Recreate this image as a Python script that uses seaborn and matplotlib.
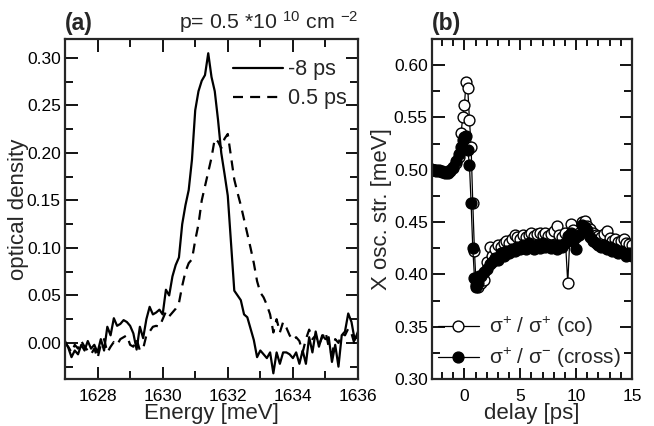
import numpy as np
import pandas as pd
import matplotlib
matplotlib.use("Agg")
import matplotlib.pyplot as plt
import seaborn as sns
from matplotlib.ticker import MultipleLocator, FormatStrFormatter

# ---------------- data panel (a) ----------------
energy = [1627.0 + 0.1 * i for i in range(91)]
od_m8ps = [0.002, -0.005, -0.015, -0.008, -0.012, -0.002, -0.008, 0.002, -0.006, -0.002,
           -0.010, 0.004, -0.008, 0.017, 0.008, 0.026, 0.018, 0.020, 0.024, 0.022,
           0.018, 0.010, -0.007, 0.017, 0.005, 0.025, 0.038, 0.030, 0.032, 0.035,
           0.030, 0.056, 0.050, 0.070, 0.082, 0.090, 0.125, 0.145, 0.161, 0.193,
           0.245, 0.265, 0.276, 0.282, 0.305, 0.280, 0.265, 0.235, 0.200, 0.178,
           0.155, 0.105, 0.055, 0.050, 0.045, 0.030, 0.027, 0.015, 0.003, -0.015,
           -0.008, -0.012, -0.016, -0.010, -0.032, -0.010, -0.022, -0.010, -0.010, -0.012,
           -0.016, -0.010, -0.022, -0.008, -0.022, 0.006, -0.010, 0.012, -0.004, 0.008,
           0.004, 0.006, -0.020, -0.002, -0.025, 0.008, 0.012, 0.031, 0.022, 0.003,
           0.012]
od_05ps = [0.000, -0.004, -0.010, -0.002, -0.006, 0.002, -0.004, -0.008, -0.012, -0.006,
           -0.016, -0.002, 0.004, -0.010, -0.004, 0.001, -0.002, 0.004, 0.006, 0.008,
           -0.002, -0.004, 0.004, -0.008, -0.006, 0.008, 0.012, 0.017, 0.018, 0.017,
           0.025, 0.033, 0.028, 0.032, 0.036, 0.042, 0.060, 0.075, 0.084, 0.088,
           0.108, 0.125, 0.150, 0.165, 0.180, 0.195, 0.215, 0.212, 0.205, 0.215,
           0.220, 0.196, 0.172, 0.158, 0.145, 0.130, 0.115, 0.100, 0.084, 0.065,
           0.053, 0.048, 0.040, 0.030, 0.011, 0.025, 0.011, 0.022, 0.016, 0.008,
           0.003, 0.006, 0.002, -0.010, 0.004, 0.014, 0.004, 0.008, -0.002, 0.006,
           0.012, -0.004, -0.012, 0.004, 0.000, 0.010, 0.008, 0.015, 0.010, -0.002,
           0.010]
spectrum_labels = ["-8 ps", "0.5 ps"]

# ---------------- data panel (b) ----------------
delay = [-3.0, -2.75, -2.5, -2.25, -2.0, -1.75, -1.5, -1.25, -1.0, -0.75, -0.5,
         -0.3, -0.15, 0.0, 0.15, 0.3, 0.45, 0.6, 0.75, 0.9, 1.05, 1.2, 1.35,
         1.5, 1.75, 2.0, 2.25, 2.5, 2.75, 3.0, 3.25, 3.5, 3.75,
         4.0, 4.25, 4.5, 4.75, 5.0, 5.25, 5.5, 5.75, 6.0, 6.25,
         6.5, 6.75, 7.0, 7.25, 7.5, 7.75, 8.0, 8.25, 8.5, 8.75,
         9.0, 9.25, 9.5, 9.75, 10.0, 10.25, 10.5, 10.75, 11.0, 11.25,
         11.5, 11.75, 12.0, 12.25, 12.5, 12.75, 13.0, 13.25, 13.5, 13.75,
         14.0, 14.25, 14.5, 14.75, 15.0]
osc_co = [0.501, 0.500, 0.500, 0.499, 0.499, 0.498, 0.498, 0.500, 0.502, 0.506, 0.512,
          0.535, 0.550, 0.562, 0.584, 0.578, 0.548, 0.522, 0.468, 0.422, 0.390, 0.388, 0.393,
          0.392, 0.395, 0.412, 0.426, 0.418, 0.424, 0.428, 0.426, 0.430, 0.432,
          0.430, 0.434, 0.438, 0.436, 0.434, 0.438, 0.436, 0.438, 0.440, 0.437,
          0.439, 0.440, 0.438, 0.440, 0.437, 0.439, 0.441, 0.446, 0.438, 0.436,
          0.440, 0.392, 0.448, 0.442, 0.436, 0.440, 0.450, 0.451, 0.446, 0.443,
          0.440, 0.438, 0.437, 0.436, 0.439, 0.441, 0.435, 0.432, 0.434, 0.431,
          0.432, 0.434, 0.430, 0.429, 0.428]
osc_cross = [0.501, 0.500, 0.499, 0.500, 0.498, 0.497, 0.497, 0.499, 0.503, 0.508, 0.515,
             0.522, 0.528, 0.531, 0.532, 0.519, 0.505, 0.468, 0.425, 0.397, 0.388, 0.392, 0.398,
             0.398, 0.402, 0.405, 0.410, 0.412, 0.416, 0.414, 0.420, 0.418, 0.422,
             0.420, 0.424, 0.422, 0.426, 0.424, 0.428, 0.424, 0.430, 0.426, 0.424,
             0.428, 0.425, 0.430, 0.426, 0.428, 0.425, 0.428, 0.424, 0.428, 0.426,
             0.430, 0.437, 0.440, 0.432, 0.424, 0.438, 0.447, 0.445, 0.442, 0.436,
             0.432, 0.430, 0.428, 0.426, 0.428, 0.424, 0.426, 0.422, 0.424, 0.420,
             0.422, 0.420, 0.418, 0.420, 0.418]
osc_labels = ["σ$^{+}$ / σ$^{+}$ (co)", "σ$^{+}$ / σ$^{-}$ (cross)"]

# ---------------- style ----------------
sns.set_style("ticks")
plt.rcParams["font.family"] = ["Liberation Sans", "DejaVu Sans"]
plt.rcParams["mathtext.fontset"] = "custom"
plt.rcParams["mathtext.rm"] = "Liberation Sans"
plt.rcParams["mathtext.default"] = "regular"

fig = plt.figure(figsize=(6.54, 4.26), dpi=100)
axa = fig.add_axes([65 / 654, 47 / 426, 293 / 654, 340 / 426])
axb = fig.add_axes([432 / 654, 47 / 426, 200 / 654, 340 / 426])

df_a = pd.DataFrame({"E": energy, "m8": od_m8ps, "p05": od_05ps})
sns.lineplot(data=df_a, x="E", y="m8", ax=axa, color="black", lw=1.6,
             label=spectrum_labels[0], sort=False, estimator=None)
sns.lineplot(data=df_a, x="E", y="p05", ax=axa, color="black", lw=1.6,
             dashes=False, linestyle=(0, (4.5, 3.2)),
             label=spectrum_labels[1], sort=False, estimator=None)

df_b = pd.DataFrame({"d": delay, "co": osc_co, "cross": osc_cross})
sns.lineplot(data=df_b, x="d", y="co", ax=axb, color="black", lw=0.9,
             marker="o", markersize=7.8, mfc="white", mec="black", mew=1.0,
             label=osc_labels[0], sort=False, estimator=None)
sns.lineplot(data=df_b, x="d", y="cross", ax=axb, color="black", lw=0.9,
             marker="o", markersize=7.8, mfc="black", mec="black", mew=1.0,
             label=osc_labels[1], sort=False, estimator=None)

for ax in (axa, axb):
    for s in ax.spines.values():
        s.set_linewidth(1.6)
        s.set_visible(True)
    ax.tick_params(which="both", direction="in", top=True, right=True,
                   width=1.3, labelsize=12.5, colors="black")
    ax.tick_params(axis="x", which="both", pad=7)
    ax.tick_params(axis="y", which="both", pad=3)

axa.set_xlim(1627, 1636)
axa.set_ylim(-0.038, 0.32)
axa.xaxis.set_major_locator(MultipleLocator(2))
axa.xaxis.set_minor_locator(MultipleLocator(1))
axa.yaxis.set_major_locator(MultipleLocator(0.05))
axa.yaxis.set_minor_locator(MultipleLocator(0.025))
axa.yaxis.set_major_formatter(FormatStrFormatter("%.2f"))
axa.tick_params(which="major", length=9)
axa.tick_params(which="minor", length=6)
axa.set_xticks([1628, 1630, 1632, 1634, 1636])
axa.set_xlabel("Energy [meV]", fontsize=16)
axa.set_ylabel("optical density", fontsize=16)
axa.xaxis.set_label_coords(0.5, -0.1)
axa.yaxis.set_label_coords(-0.16, 0.5)
axa.xaxis.label.set_va("center")
axa.yaxis.label.set_va("center")
axa.legend(loc="upper left", frameon=False, fontsize=15.5, handlelength=2.35,
           handletextpad=0.22, borderaxespad=0, borderpad=0, labelspacing=0.36,
           bbox_to_anchor=(0.573, 0.94))
axa.text(0.0, 1.012, "(a)", transform=axa.transAxes, fontsize=16.5,
         fontweight="bold", ha="left", va="bottom")
axa.text(1.0, 1.012, "p= 0.5 *10 $^{10}$ cm $^{-2}$", transform=axa.transAxes,
         fontsize=15.3, ha="right", va="bottom")

axb.set_xlim(-2.9, 15)
axb.set_ylim(0.30, 0.625)
axb.xaxis.set_major_locator(MultipleLocator(5))
axb.xaxis.set_minor_locator(MultipleLocator(1))
axb.yaxis.set_major_locator(MultipleLocator(0.05))
axb.yaxis.set_minor_locator(MultipleLocator(0.025))
axb.yaxis.set_major_formatter(FormatStrFormatter("%.2f"))
axb.tick_params(axis="x", which="major", length=8)
axb.tick_params(axis="x", which="minor", length=5)
axb.tick_params(axis="y", which="major", length=9)
axb.tick_params(axis="y", which="minor", length=6)
axb.set_xlabel("delay [ps]", fontsize=16)
axb.set_ylabel("X osc. str. [meV]", fontsize=16)
axb.xaxis.set_label_coords(0.5, -0.1)
axb.yaxis.set_label_coords(-0.25, 0.5)
axb.xaxis.label.set_va("center")
axb.yaxis.label.set_va("center")
axb.legend(loc="lower left", frameon=False, fontsize=15, handlelength=1.95,
           handletextpad=0.5, borderaxespad=0, borderpad=0, labelspacing=0.33,
           bbox_to_anchor=(0.03, 0.027))
axb.text(0.0, 1.012, "(b)", transform=axb.transAxes, fontsize=16.5,
         fontweight="bold", ha="left", va="bottom")

fig.savefig("out.png", dpi=100)
